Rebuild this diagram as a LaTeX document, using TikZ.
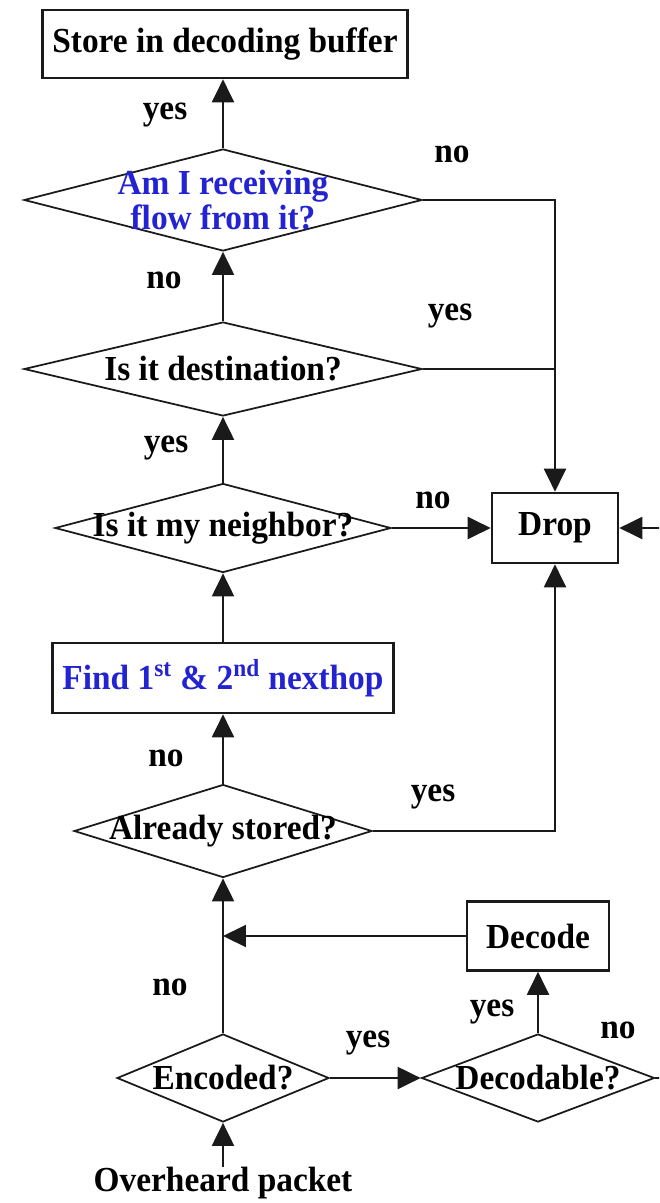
\documentclass[tikz,border=0pt]{standalone}
\usepackage{fontspec}
\setmainfont[FakeStretch=0.95]{Liberation Serif}
\definecolor{ink}{HTML}{1A1A1A}
\definecolor{qblue}{HTML}{2323D2}
\usetikzlibrary{arrows.meta,shapes.geometric,positioning,calc}
\tikzset{
  proc_box/.style={draw=ink,line width=1.5pt,rectangle,inner sep=0pt,
    font=\fontsize{20}{21}\selectfont\bfseries,align=center},
  dec_box/.style={draw=ink,line width=1pt,diamond,inner sep=0pt,aspect=1,
    font=\fontsize{20}{21}\selectfont\bfseries,align=center},
  lbl_txt/.style={font=\fontsize{20}{21}\selectfont\bfseries,inner sep=0pt},
  arr/.style={-{Triangle[length=0.46cm,width=0.44cm]},draw=ink,line width=1.2pt},
  ln/.style={draw=ink,line width=1.2pt},
}
\begin{document}
\begin{tikzpicture}[x=0.02cm,y=-0.02cm]
  \useasboundingbox (0,0) rectangle (659,1203);
  \clip (0,0) rectangle (659,1203);

  \node[proc_box,minimum width=7.3cm,minimum height=1.36cm] (store) at (225,44) {Store in decoding buffer};
  \node[dec_box,minimum width=7.96cm,minimum height=2.04cm,text=qblue] (recv) at (223,200)
    {\makebox[0pt]{\shortstack{Am I receiving\\[-2pt]flow from it?}}};
  \node[dec_box,minimum width=7.96cm,minimum height=1.88cm] (dest) at (223,369) {\makebox[0pt]{Is it destination?}};
  \node[dec_box,minimum width=6.72cm,minimum height=1.78cm] (neigh) at (223,528) {\makebox[0pt]{Is it my neighbor?}};
  \node[proc_box,minimum width=2.52cm,minimum height=1.4cm] (drop) at (555,528) {Drop};
  \node[proc_box,minimum width=6.82cm,minimum height=1.4cm,text=qblue] (find) at (223,678)
    {Find 1\textsuperscript{st} \& 2\textsuperscript{nd} nexthop};
  \node[dec_box,minimum width=5.96cm,minimum height=1.86cm] (stored) at (223,831) {\makebox[0pt]{Already stored?}};
  \node[proc_box,minimum width=2.84cm,minimum height=1.38cm] (decode) at (538,936) {Decode};
  \node[dec_box,minimum width=4.24cm,minimum height=1.76cm] (enc) at (223,1078) {\makebox[0pt]{Encoded?}};
  \node[dec_box,minimum width=4.66cm,minimum height=1.76cm] (decable) at (538,1078) {\makebox[0pt]{Decodable?}};
  \node[lbl_txt] (ovh) at (223,1183) {Overheard packet};

  \coordinate (merge) at (decode.west -| enc.north);
  \coordinate (offr) at ($(decable.east)+(60,0)$);

  \draw[arr] (recv.north)--(recv.north |- store.south);
  \draw[arr] (dest.north)--(recv.south);
  \draw[arr] (neigh.north)--(dest.south);
  \draw[arr] (find.north)--(neigh.south);
  \draw[arr] (stored.north)--(find.south);
  \draw[arr] (enc.north)--(stored.south);
  \draw[arr] (ovh.north)--(enc.south);
  \draw[arr] (enc.east)--(decable.west);
  \draw[arr] (decable.north)--(decode.south);
  \draw[arr] (decode.west)--(merge);
  \draw[arr] (recv.east) -| (drop.north);
  \draw[ln] (dest.east)--(dest.east -| drop.north);
  \draw[arr] (neigh.east)--(drop.west);
  \draw[arr] (stored.east) -| (drop.south);
  \draw[arr] (decable.east)--(offr) |- (drop.east);

  \node[lbl_txt] (l1) at (165,115) {yes};
  \node[lbl_txt] (l2) at (452,154) {no};
  \node[lbl_txt] (l3) at (164,280) {no};
  \node[lbl_txt] (l4) at (450,316) {yes};
  \node[lbl_txt] (l5) at (166,448) {yes};
  \node[lbl_txt] (l6) at (433,500) {no};
  \node[lbl_txt] (l7) at (166,758) {no};
  \node[lbl_txt] (l8) at (433,797) {yes};
  \node[lbl_txt] (l9) at (170,987) {no};
  \node[lbl_txt] (l10) at (368,1043) {yes};
  \node[lbl_txt] (l11) at (492,1012) {yes};
  \node[lbl_txt] (l12) at (618,1030) {no};
\end{tikzpicture}
\end{document}
